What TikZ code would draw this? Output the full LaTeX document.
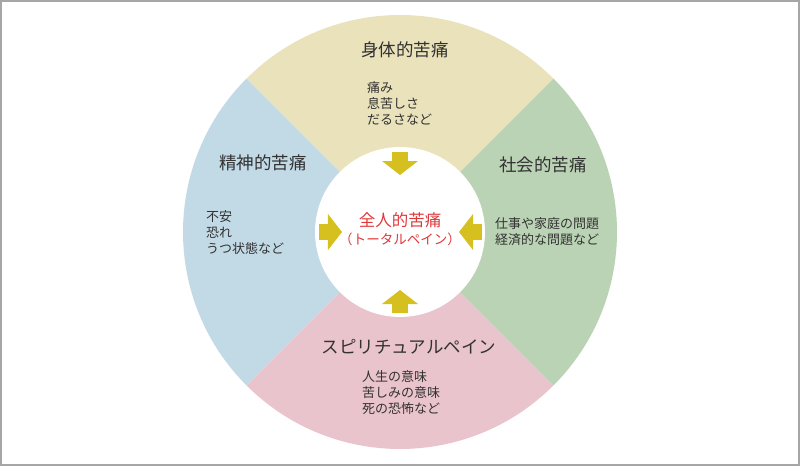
\documentclass[tikz,border=0pt]{standalone}
\usepackage{fontspec}
\newfontfamily\jpfont{Noto Sans CJK JP}
\usepackage{xcolor}
\usepackage{tikz}
\usetikzlibrary{positioning}
\usetikzlibrary{arrows.meta}

\definecolor{bodyFill}{RGB}{233,226,187}
\definecolor{mindFill}{RGB}{194,217,230}
\definecolor{socialFill}{RGB}{187,211,181}
\definecolor{spiritFill}{RGB}{234,196,205}
\definecolor{flowYellow}{RGB}{214,192,32}
\definecolor{coreRed}{RGB}{224,56,58}
\definecolor{ink}{RGB}{50,50,50}
\definecolor{frameGray}{RGB}{166,166,166}

\begin{document}
\begin{tikzpicture}[
    x=1pt, y=1pt,
    % Styling for the texts
    heading/.style={
        font=\jpfont\fontsize{17.5}{19}\selectfont,
        text=ink,
        inner sep=0pt
    },
    detail/.style={
        font=\jpfont\fontsize{13}{16}\selectfont,
        text=ink,
        align=left,
        anchor=north west,
        inner sep=0pt
    },
    coreText/.style={
        font=\jpfont\fontsize{16.5}{18}\selectfont,
        text=coreRed,
        inner sep=0pt
    },
    % block arrows pointing to the centre
    inflow/.style={
        draw=flowYellow,
        line width=16pt,
        -{Triangle[width=36pt,length=14pt,line width=0pt]}
    }
]

    \useasboundingbox (-400,-234) rectangle (400,232);
    \draw[frameGray, line width=2pt] (-399,-233) rectangle (399,231);

    % Define Sectors
    \fill[bodyFill] (0,0) -- (45:217) arc[start angle=45, end angle=135, radius=217] -- cycle;
    \fill[mindFill] (0,0) -- (135:217) arc[start angle=135, end angle=225, radius=217] -- cycle;
    \fill[spiritFill] (0,0) -- (225:217) arc[start angle=225, end angle=315, radius=217] -- cycle;
    \fill[socialFill] (0,0) -- (315:217) arc[start angle=315, end angle=405, radius=217] -- cycle;

    % Centre circle
    \node[circle, fill=white, minimum size=170pt, inner sep=0pt] (core) at (0,0) {};
    \node[coreText] (whole) at (0,12) {全人的苦痛};
    \node[coreText, font=\jpfont\fontsize{13.5}{15}\selectfont] (wholeKana) [below=5pt of whole] {（トータルペイン）};

    % Define Headings
    \node[heading] (body) at (5,182) {身体的苦痛};
    \node[heading] (mind) at (-137,69) {精神的苦痛};
    \node[heading] (social) at (143,67) {社会的苦痛};
    \node[heading] (spirit) at (9,-115) {スピリチュアルペイン};

    % Define Details
    \node[detail] (bodyList) at (-33,151) {痛み\\息苦しさ\\だるさなど};
    \node[detail] (mindList) at (-194,22) {不安\\恐れ\\うつ状態など};
    \node[detail] (socialList) at (95,15) {仕事や家庭の問題\\経済的な問題など};
    \node[detail] (spiritList) at (-38,-138) {人生の意味\\苦しみの意味\\死の恐怖など};

    % Arrow ends
    \coordinate (bodyTail) at (0,80);
    \coordinate (bodyTip) at (0,57);
    \coordinate (mindTail) at (-81,0);
    \coordinate (mindTip) at (-58,0);
    \coordinate (socialTail) at (82,0);
    \coordinate (socialTip) at (59,0);
    \coordinate (spiritTail) at (0,-81);
    \coordinate (spiritTip) at (0,-58);

    % Draw Arrows
    \draw[inflow] (bodyTail) -- (bodyTip);
    \draw[inflow] (mindTail) -- (mindTip);
    \draw[inflow] (socialTail) -- (socialTip);
    \draw[inflow] (spiritTail) -- (spiritTip);

\end{tikzpicture}
\end{document}
